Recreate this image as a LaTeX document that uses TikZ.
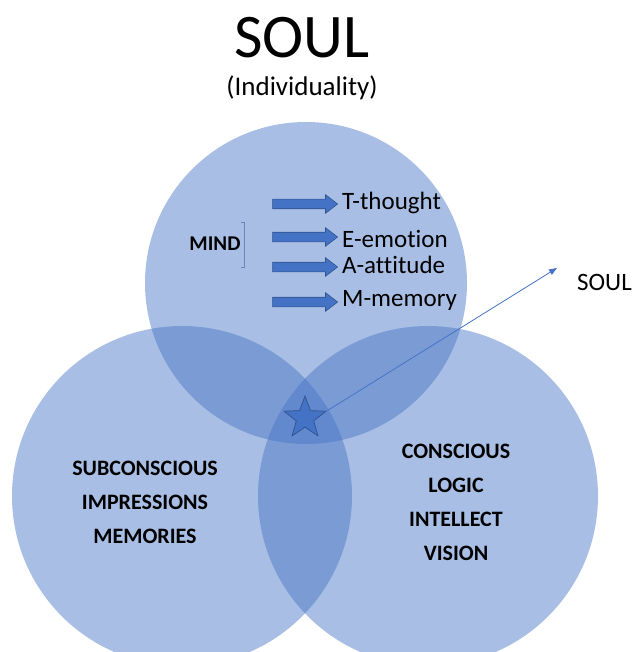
\documentclass[tikz,border=0pt]{standalone}
\usepackage{fontspec}
\setmainfont{Carlito}[Ligatures=NoCommon]
\usetikzlibrary{shapes.geometric,shapes.arrows,arrows.meta}
\definecolor{vblue}{RGB}{68,114,196}
\definecolor{vdark}{RGB}{47,82,143}
\tikzset{
  venn/.style={circle,fill=vblue,fill opacity=0.46,draw=none,inner sep=0pt,outer sep=0pt},
  blockarr/.style={single arrow,fill=vblue,draw=vdark,line width=0.6pt,minimum height=65pt,inner xsep=0pt,inner ysep=4.5pt,single arrow head extend=4.5pt,single arrow tip angle=75},
  item/.style={anchor=west,inner sep=0pt,font=\fontsize{25}{28}\selectfont},
  lbl/.style={align=center,font=\bfseries\fontsize{22}{34}\selectfont,inner sep=0pt},
}
\begin{document}
\begin{tikzpicture}[x=1pt,y=-1pt]
\useasboundingbox (0,0) rectangle (634,652);
\begin{scope}
\clip (0,0) rectangle (634,652);
\node[venn,minimum size=322pt] (mindc) at (306,283) {};
\node[venn,minimum size=340pt] (subc) at (182,496) {};
\node[venn,minimum size=340pt] (consc) at (428,496) {};
\end{scope}
\node[font=\fontsize{62}{70}\selectfont,inner sep=0pt] (title) at (302,38) {SOUL};
\node[font=\fontsize{27}{30}\selectfont,inner sep=0pt] (sub) at (302,88) {(Individuality)};
\node[blockarr] (a1) at (302,204) {};
\node[blockarr] (a2) at (302,237) {};
\node[blockarr] (a3) at (302,267) {};
\node[blockarr] (a4) at (302,302) {};
\node[item] (t1) at (342,203) {T-thought};
\node[item] (t2) at (342,239) {E-emotion};
\node[item] (t3) at (342,265) {A-attitude};
\node[item] (t4) at (342,300) {M-memory};
\node[font=\bfseries\fontsize{21}{24}\selectfont,inner sep=0pt] (mind) at (215,244) {MIND};
\coordinate (bt) at (244,222);
\coordinate (bb) at (244,267);
\draw[vdark!70,line width=0.6pt] ([xshift=-3pt]bt) -- (bt) -- (bb) -- ([xshift=-3pt]bb);
\node[lbl] (left) at (145,502) {SUBCONSCIOUS\\IMPRESSIONS\\MEMORIES};
\node[lbl] (right) at (456,502) {CONSCIOUS\\LOGIC\\INTELLECT\\VISION};
\node[star,star points=5,star point ratio=2.4,minimum size=44pt,inner sep=0pt,fill=vblue,draw=vdark,line width=0.7pt] (star) at (305,418) {};
\coordinate (tip) at (557,268);
\draw[vblue,line width=0.8pt,-{Triangle[length=8pt,width=6pt]}] (star.outer point 5) -- (tip);
\node[anchor=west,inner sep=0pt,font=\fontsize{25}{28}\selectfont] (soulr) at (577,282) {SOUL};
\end{tikzpicture}
\end{document}
